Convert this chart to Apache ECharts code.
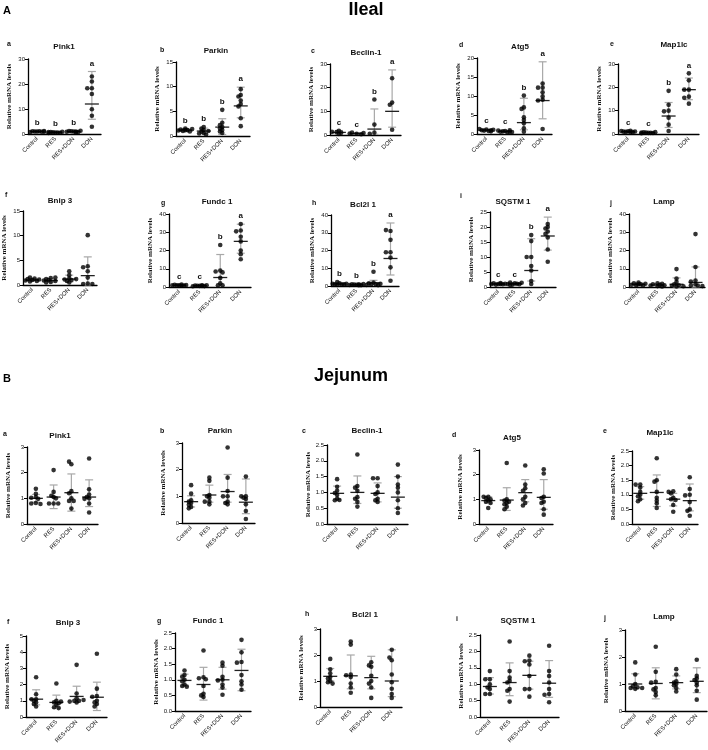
<!DOCTYPE html>
<html><head><meta charset="utf-8">
<script src="https://cdn.jsdelivr.net/npm/echarts@6/dist/echarts.min.js"></script>
<style>html,body{margin:0;padding:0;background:#fff}#c{width:708px;height:750px}</style>
</head><body><div id="c"></div>
<script>
const categories = ['Control', 'RES', 'RES+DON', 'DON'];
const sectionTitles = ['Ileal', 'Jejunum'];
const sectionTags = ['A', 'B'];
const geneNames = ['Pink1', 'Parkin', 'Beclin-1', 'Atg5', 'Map1lc', 'Bnip 3', 'Fundc 1', 'Bcl2l 1', 'SQSTM 1', 'Lamp'];
const panelTags = ['a', 'b', 'c', 'd', 'e', 'f', 'g', 'h', 'i', 'j'];
const yAxisName = 'Relative mRNA levels';

// ---------- Ileal ----------
const ilealPink1Pts = [[1.0,1.1,0.9,1.2,0.8,1.0,1.1,0.9],[0.6,0.8,0.5,0.9,0.7,0.4,0.6,0.8],[1.0,1.2,0.8,1.3,0.9,1.1,0.7,1.0],[23,21,18.3,18.3,16,9.9,7.3,2.9]];
const ilealPink1Mean = [1.0,0.7,1.0,12]; const ilealPink1Lo = [0.8,0.5,0.8,5.9]; const ilealPink1Hi = [1.2,0.9,1.2,25];
const ilealPink1Letters = ['b','b','b','a'];

const ilealParkinPts = [[1.5,1.3,1.2,1.0,1.4,1.1,0.9,1.2],[1.8,1.5,1.2,0.9,0.6,0.5,1.0,0.3],[5.3,2.7,2.2,1.8,1.5,1.2,0.9,0.6],[9.5,8.3,8.0,7.2,6.5,6.0,3.6,2.0]];
const ilealParkinMean = [1.2,1.0,1.8,6.1]; const ilealParkinLo = [0.9,0.5,0.3,3.7]; const ilealParkinHi = [1.5,1.6,3.5,9.9];
const ilealParkinLetters = ['b','b','b','a'];

const ilealBeclinPts = [[1.8,1.2,0.4,1.0,1.3],[0.5,1.0,0.3,0.6,0.8],[15,4.4,1.0,0.5],[24,13.7,12.8,2.2]];
const ilealBeclinMean = [1.1,0.6,2.5,10]; const ilealBeclinLo = [0.3,0.3,0.3,3.3]; const ilealBeclinHi = [1.9,1.0,11,27.5];
const ilealBeclinLetters = ['c','c','b','a'];

const ilealAtg5Pts = [[1.2,1.0,0.8,1.1,0.9,1.3,0.7,1.0],[0.8,0.6,1.0,0.5,0.7,0.9,0.4,0.6],[10.1,7.0,6.6,4.4,3.7,2.8,1.5,0.6],[13.3,12.2,12.2,11.0,9.9,9.0,8.8,1.3]];
const ilealAtg5Mean = [1.0,0.7,3.0,8.8]; const ilealAtg5Lo = [0.8,0.5,1.1,4.0]; const ilealAtg5Hi = [1.2,0.9,9.4,19];
const ilealAtg5Letters = ['c','c','b','a'];

const ilealMap1lcPts = [[1.2,1.0,0.8,1.1,0.9,1.3,1.4,0.7],[0.5,0.7,0.4,0.8,0.6,0.3,0.5,0.6],[18.5,12.5,10.0,9.7,7.0,4.0,1.3],[26,23,19,19,16,15.5,13]];
const ilealMap1lcMean = [1.0,0.55,7.7,19]; const ilealMap1lcLo = [0.7,0.3,2.8,14.7]; const ilealMap1lcHi = [1.3,0.8,13.5,24];
const ilealMap1lcLetters = ['c','c','b','a'];

const ilealBnip3Pts = [[1.0,1.2,0.8,1.3,1.5,0.9,1.1,0.7],[1.4,1.2,0.6,0.8,1.0,0.5,0.9,1.5],[2.8,2.0,1.3,1.1,1.0,0.8,0.5,1.2],[10.1,3.8,3.6,2.8,1.5,0.3,0.2,0.2]];
const ilealBnip3Mean = [1.0,0.9,1.2,1.9]; const ilealBnip3Lo = [0.8,0.6,0.6,0]; const ilealBnip3Hi = [1.3,1.3,2.0,5.7];
const ilealBnip3Letters = ['','','',''];

const ilealFundc1Pts = [[1.0,1.2,0.8,1.1,0.9,1.3,1.0,0.7],[0.6,0.8,0.5,0.9,0.7,0.4,1.0,0.6],[23,9.0,8.5,8.0,5.0,2.0,1.0,1.0],[34.5,31,30.5,27.5,25,20,18,15.2]];
const ilealFundc1Mean = [1.0,0.7,5.2,25]; const ilealFundc1Lo = [0.7,0.4,0.3,18.5]; const ilealFundc1Hi = [1.3,1.0,17.8,34.4];
const ilealFundc1Letters = ['c','c','b','a'];

const ilealBcl2l1Pts = [[1.5,1.0,0.8,2.2,1.2,0.6,1.3,0.9],[0.7,0.9,0.5,1.1,0.6,0.8,0.4,1.0],[8.0,2.0,1.5,1.0,0.8,0.6,1.2,0.5],[31,31.5,26,19,19,16,10.5,3]];
const ilealBcl2l1Mean = [1.2,0.7,1.8,15.5]; const ilealBcl2l1Lo = [0.6,0.4,0.5,6.2]; const ilealBcl2l1Hi = [1.8,1.0,3.2,35.5];
const ilealBcl2l1Letters = ['b','b','b','a'];

const ilealSqstm1Pts = [[1.0,1.2,0.9,1.1,1.0,0.8,1.3,1.0],[1.2,1.5,0.9,1.0,0.8,1.4,1.1,0.7],[17.3,15.3,10.0,10.0,7.0,5.5,2.0,1.0],[21.0,20.0,19.5,18.5,17.7,16.5,12.5,8.4]];
const ilealSqstm1Mean = [1.0,1.1,5.5,17]; const ilealSqstm1Lo = [0.8,0.8,2.0,12.3]; const ilealSqstm1Hi = [1.2,1.4,16.1,23.3];
const ilealSqstm1Letters = ['c','c','b','a'];

const ilealLampPts = [[2.5,2.0,1.5,1.0,0.8,1.2,1.8,1.5],[2.0,1.5,1.8,0.5,0.8,1.0,0.3,1.2],[9.8,4.6,2.8,1.5,1.0,0.7,0.4,0.3],[29,11,3.5,3.0,1.5,1.0,0.8,0.5]];
const ilealLampMean = [1.5,1.1,1.5,2.5]; const ilealLampLo = [0.8,0.4,0,0]; const ilealLampHi = [2.2,1.8,5.0,11];
const ilealLampLetters = ['','','',''];

// ---------- Jejunum ----------
const jejPink1Pts = [[1.37,1.18,1.05,1.02,0.98,0.82,0.80,0.78],[2.1,1.25,1.05,1.1,1.0,0.8,0.8,0.8],[2.33,2.43,1.28,1.2,1.0,0.9,0.9,0.6],[2.55,1.35,1.15,1.05,1.0,0.98,0.8,0.45]];
const jejPink1Mean = [1.0,1.05,1.22,1.05]; const jejPink1Lo = [0.85,0.6,0.5,0.68]; const jejPink1Hi = [1.15,1.52,1.95,1.72];

const jejParkinPts = [[1.42,1.1,0.85,0.8,0.75,0.68,0.6,0.55],[1.7,1.58,1.05,1.0,0.95,0.8,0.8,0.7],[2.83,1.7,1.2,1.0,1.0,0.8,0.75,0.7],[1.74,1.0,1.0,0.95,0.9,0.7,0.45,0.15]];
const jejParkinMean = [0.8,1.05,1.18,0.78]; const jejParkinLo = [0.6,0.78,0.78,0.35]; const jejParkinHi = [1.02,1.42,1.82,1.65];

const jejBeclinPts = [[1.42,1.18,1.05,0.98,0.92,0.8,0.75,0.76],[2.2,1.2,1.15,1.05,0.85,0.8,0.7,0.55],[1.45,1.45,1.2,1.0,0.95,0.8,0.75,0.7],[1.88,1.5,1.25,1.15,1.0,0.75,0.5,0.35]];
const jejBeclinMean = [0.97,1.0,0.97,0.85]; const jejBeclinLo = [0.78,0.65,0.7,0.5]; const jejBeclinHi = [1.2,1.52,1.3,1.5];

const jejAtg5Pts = [[1.1,1.1,1.05,1.0,0.95,0.9,0.85,0.65],[2.47,1.0,0.95,0.9,0.85,0.8,0.7,0.6],[2.37,1.6,1.45,1.35,1.1,1.0,0.85,0.75],[2.22,2.05,1.1,1.05,0.9,0.85,0.6,0.38]];
const jejAtg5Mean = [0.95,0.97,1.27,1.08]; const jejAtg5Lo = [0.85,0.55,0.9,0.6]; const jejAtg5Hi = [1.1,1.47,1.8,1.8];

const jejMap1lcPts = [[1.35,1.35,1.25,1.1,1.0,0.95,0.85,0.78],[2.25,1.5,1.45,1.1,0.9,0.8,0.7,0.55],[1.12,1.1,1.05,0.9,0.85,0.82,0.65,0.42],[1.6,1.2,1.0,0.98,0.75,0.5,0.45,0.28]];
const jejMap1lcMean = [1.05,1.08,0.85,0.8]; const jejMap1lcLo = [0.85,0.6,0.62,0.45]; const jejMap1lcHi = [1.28,1.68,1.05,1.37];

const jejBnip3Pts = [[2.45,1.4,1.1,1.1,1.0,0.9,0.8,0.65],[2.07,1.0,0.9,0.95,0.85,0.75,0.6,0.55],[3.22,1.45,1.15,1.0,1.0,0.95,0.9,1.05],[3.9,1.75,1.3,1.25,1.0,0.9,0.8,0.65]];
const jejBnip3Mean = [1.1,0.9,1.27,1.22]; const jejBnip3Lo = [0.75,0.55,0.9,0.4]; const jejBnip3Hi = [1.68,1.35,1.9,2.15];

const jejFundc1Pts = [[1.3,1.15,1.1,1.0,0.95,0.85,0.8,0.78],[1.94,1.08,1.05,1.02,0.8,0.55,0.45,0.5],[1.55,1.45,1.1,1.0,0.98,0.85,0.75,0.52],[2.28,1.88,1.57,1.55,1.15,0.95,0.85,0.68]];
const jejFundc1Mean = [0.98,0.85,1.0,1.3]; const jejFundc1Lo = [0.8,0.35,0.7,0.65]; const jejFundc1Hi = [1.18,1.4,1.4,1.98];

const jejBcl2l1Pts = [[1.85,1.45,1.3,1.15,1.1,1.0,0.95,0.9],[2.52,2.4,1.25,1.22,1.15,0.9,0.75,0.55],[1.72,1.55,1.6,1.2,1.0,0.9,0.75,0.35],[2.2,1.8,1.9,1.25,0.95,0.7,0.5,0.35]];
const jejBcl2l1Mean = [1.18,1.2,1.13,1.0]; const jejBcl2l1Lo = [1.0,0.7,0.7,0.4]; const jejBcl2l1Hi = [1.48,2.0,1.95,2.2];

const jejSqstm1Pts = [[1.4,1.15,1.15,1.0,0.85,0.7,0.7,0.9],[2.3,1.4,1.2,1.1,1.05,0.85,0.8,0.47],[1.87,1.72,1.7,1.6,1.25,0.85,0.85,0.62],[2.17,1.4,1.25,1.05,0.85,0.7,0.68,0.45]];
const jejSqstm1Mean = [0.93,1.05,1.27,1.03]; const jejSqstm1Lo = [0.7,0.65,0.85,0.6]; const jejSqstm1Hi = [1.2,1.65,1.7,1.72];

const jejLampPts = [[1.8,1.35,1.0,0.92,0.88,0.85,0.85,0.82],[2.38,1.45,1.08,1.05,0.85,0.7,0.58,0.8],[1.55,1.35,1.1,1.05,1.0,0.95,0.85,0.72],[1.9,1.3,1.2,1.15,1.05,0.95,0.75,0.42]];
const jejLampMean = [1.0,1.02,1.05,1.1]; const jejLampLo = [0.82,0.45,0.82,0.68]; const jejLampHi = [1.38,1.6,1.3,1.6];
const noLetters = ['','','',''];

// y-axis ticks: [max, interval]
const ilealYTicks = [[30,10],[15,5],[30,10],[20,5],[30,10],[15,5],[40,10],[40,10],[25,5],[40,10]];
const jejYTicks = [[3,1],[3,1],[2.5,0.5],[3,1],[2.5,0.5],[5,1],[2.5,0.5],[3,1],[2.5,0.5],[3,1]];

const panelData = [
  [ilealPink1Pts, ilealPink1Mean, ilealPink1Lo, ilealPink1Hi, ilealPink1Letters],
  [ilealParkinPts, ilealParkinMean, ilealParkinLo, ilealParkinHi, ilealParkinLetters],
  [ilealBeclinPts, ilealBeclinMean, ilealBeclinLo, ilealBeclinHi, ilealBeclinLetters],
  [ilealAtg5Pts, ilealAtg5Mean, ilealAtg5Lo, ilealAtg5Hi, ilealAtg5Letters],
  [ilealMap1lcPts, ilealMap1lcMean, ilealMap1lcLo, ilealMap1lcHi, ilealMap1lcLetters],
  [ilealBnip3Pts, ilealBnip3Mean, ilealBnip3Lo, ilealBnip3Hi, ilealBnip3Letters],
  [ilealFundc1Pts, ilealFundc1Mean, ilealFundc1Lo, ilealFundc1Hi, ilealFundc1Letters],
  [ilealBcl2l1Pts, ilealBcl2l1Mean, ilealBcl2l1Lo, ilealBcl2l1Hi, ilealBcl2l1Letters],
  [ilealSqstm1Pts, ilealSqstm1Mean, ilealSqstm1Lo, ilealSqstm1Hi, ilealSqstm1Letters],
  [ilealLampPts, ilealLampMean, ilealLampLo, ilealLampHi, ilealLampLetters],
  [jejPink1Pts, jejPink1Mean, jejPink1Lo, jejPink1Hi, noLetters],
  [jejParkinPts, jejParkinMean, jejParkinLo, jejParkinHi, noLetters],
  [jejBeclinPts, jejBeclinMean, jejBeclinLo, jejBeclinHi, noLetters],
  [jejAtg5Pts, jejAtg5Mean, jejAtg5Lo, jejAtg5Hi, noLetters],
  [jejMap1lcPts, jejMap1lcMean, jejMap1lcLo, jejMap1lcHi, noLetters],
  [jejBnip3Pts, jejBnip3Mean, jejBnip3Lo, jejBnip3Hi, noLetters],
  [jejFundc1Pts, jejFundc1Mean, jejFundc1Lo, jejFundc1Hi, noLetters],
  [jejBcl2l1Pts, jejBcl2l1Mean, jejBcl2l1Lo, jejBcl2l1Hi, noLetters],
  [jejSqstm1Pts, jejSqstm1Mean, jejSqstm1Lo, jejSqstm1Hi, noLetters],
  [jejLampPts, jejLampMean, jejLampLo, jejLampHi, noLetters]
];
const yTicks = ilealYTicks.concat(jejYTicks);

// ---------- layout (pixels): axisX, axisEndX, topY, zeroY, titleX, titleY, tagX, tagY ----------
const layout = [
  [28,101,59,134, 64,47, 7,44],
  [176,250,62,136, 216,51, 160,50],
  [330,401,64,135, 366,53, 311,51],
  [477,552,58,134, 520,47, 459,45],
  [618,699,64,134, 674,45, 610,44],
  [23,97,211,285, 60,201, 5,195],
  [169,251,214,287, 217,202, 161,203],
  [331,399,215,286, 363,205, 312,203],
  [490,556,212,287, 513,202, 460,196],
  [629,705,214,287, 664,202, 610,203],
  [27,98,447,524, 60,436, 3,434],
  [182,255,443,523, 220,431, 160,431],
  [327,408,445,524, 367,431, 302,431],
  [479,553,450,524, 512,438, 452,435],
  [632,698,451,524, 660,433, 603,431],
  [26,107,636,717, 68,623, 7,622],
  [175,251,633,711, 208,621, 157,621],
  [320,402,629,707, 365,615, 305,614],
  [480,559,635,717, 518,621, 456,619],
  [625,707,630,711, 664,617, 604,618]
];

function swarm(vals, pxPerUnit) {
  const placed = [];
  const step = 2.3, thr = 2.6, maxOff = 8;
  const cands = [0];
  for (let k = 1; k * step <= maxOff; k++) { cands.push(-k * step, k * step); }
  return vals.map(v => {
    const y = v * pxPerUnit;
    let best = 0, bestD = -1;
    for (const c of cands) {
      let md = Infinity;
      for (const p of placed) { const d = Math.hypot(c - p[0], y - p[1]); if (d < md) md = d; }
      if (md >= thr) { best = c; bestD = md; break; }
      if (md > bestD) { bestD = md; best = c; }
    }
    placed.push([best, y]);
    return best;
  });
}

const grids = [], xAxes = [], yAxes = [], series = [], graphics = [];
const F = 'Liberation Sans, Arial, sans-serif';

layout.forEach((L, i) => {
  const [ax, xe, top, zero, tx, ty, gx, gy] = L;
  const [pts, mean, lo, hi, letters] = panelData[i];
  const [yMax, yStep] = yTicks[i];
  const h = zero - top;
  grids.push({ left: ax, top: top, width: xe - ax, height: h, containLabel: false });
  xAxes.push({
    type: 'category', gridIndex: i, data: categories, boundaryGap: true,
    axisLine: { lineStyle: { color: '#000', width: 1.3 } },
    axisTick: { show: false },
    axisLabel: { rotate: 45, fontSize: 6, margin: 4, color: '#111', interval: 0, fontFamily: F }
  });
  yAxes.push({
    type: 'value', gridIndex: i, min: 0, max: yMax, interval: yStep,
    axisLine: { show: true, lineStyle: { color: '#000', width: 1.3 } },
    axisTick: { show: true, length: 3, lineStyle: { color: '#000', width: 1 } },
    axisLabel: { fontSize: 6, margin: 3, color: '#111', fontFamily: F,
      formatter: v => yStep < 1 ? v.toFixed(1) : String(v) },
    splitLine: { show: false },
    name: yAxisName, nameLocation: 'middle', nameGap: 15, nameRotate: 90,
    nameTextStyle: { fontFamily: 'Liberation Serif, Times New Roman, serif', fontSize: 7, fontWeight: 'bold', color: '#111' }
  });
  const pxPerUnit = h / yMax;
  const scatterData = [];
  pts.forEach((grp, g) => {
    const offs = swarm(grp, pxPerUnit);
    grp.forEach((v, k) => scatterData.push({ value: [g, v], symbolOffset: [offs[k], 0] }));
  });
  const barData = categories.map((c, g) => [g, mean[g], lo[g], hi[g], Math.max.apply(null, pts[g])]);
  series.push({
    type: 'custom', xAxisIndex: i, yAxisIndex: i, z: 2, silent: true, clip: false,
    data: barData,
    renderItem: (params, api) => {
      const x = api.value(0);
      const pm = api.coord([x, api.value(1)]);
      const pl = api.coord([x, api.value(2)]);
      const ph = api.coord([x, api.value(3)]);
      const pmax = api.coord([x, api.value(4)]);
      const grey = '#a8a8a8';
      const children = [
        { type: 'line', shape: { x1: pl[0], y1: pl[1], x2: ph[0], y2: ph[1] }, style: { stroke: grey, lineWidth: 1.2 } },
        { type: 'line', shape: { x1: pl[0] - 4, y1: pl[1], x2: pl[0] + 4, y2: pl[1] }, style: { stroke: grey, lineWidth: 1.2 } },
        { type: 'line', shape: { x1: ph[0] - 4, y1: ph[1], x2: ph[0] + 4, y2: ph[1] }, style: { stroke: grey, lineWidth: 1.2 } },
        { type: 'line', shape: { x1: pm[0] - 7, y1: pm[1], x2: pm[0] + 7, y2: pm[1] }, style: { stroke: '#222', lineWidth: 1.3 } }
      ];
      const letter = letters[params.dataIndex];
      if (letter) {
        const topY = Math.min(ph[1], pmax[1]);
        children.push({ type: 'text', x: pm[0], y: topY - 8,
          style: { text: letter, align: 'center', verticalAlign: 'middle', textAlign: 'center', textVerticalAlign: 'middle',
            fontSize: 8, fontWeight: 'bold', fontFamily: F, fill: '#111' } });
      }
      return { type: 'group', children };
    }
  });
  series.push({
    type: 'scatter', xAxisIndex: i, yAxisIndex: i, z: 3, silent: true,
    symbol: 'circle', symbolSize: 4.6, itemStyle: { color: '#000' },
    data: scatterData
  });
  graphics.push({ type: 'text', x: tx, y: ty, style: { text: geneNames[i % 10], align: 'center', verticalAlign: 'middle', textAlign: 'center', textVerticalAlign: 'middle', fontSize: 8, fontWeight: 'bold', fontFamily: F, fill: '#111' } });
  graphics.push({ type: 'text', x: gx, y: gy, style: { text: panelTags[i % 10], align: 'left', verticalAlign: 'middle', textAlign: 'left', textVerticalAlign: 'middle', fontSize: 7, fontWeight: 'bold', fontFamily: F, fill: '#111' } });
});

graphics.push({ type: 'text', x: 366, y: 10, style: { text: sectionTitles[0], align: 'center', verticalAlign: 'middle', textAlign: 'center', textVerticalAlign: 'middle', fontSize: 18, fontWeight: 'bold', fontFamily: F, fill: '#000' } });
graphics.push({ type: 'text', x: 351, y: 376, style: { text: sectionTitles[1], align: 'center', verticalAlign: 'middle', textAlign: 'center', textVerticalAlign: 'middle', fontSize: 18, fontWeight: 'bold', fontFamily: F, fill: '#000' } });
graphics.push({ type: 'text', x: 3, y: 11, style: { text: sectionTags[0], align: 'left', verticalAlign: 'middle', textAlign: 'left', textVerticalAlign: 'middle', fontSize: 11, fontWeight: 'bold', fontFamily: F, fill: '#000' } });
graphics.push({ type: 'text', x: 3, y: 379, style: { text: sectionTags[1], align: 'left', verticalAlign: 'middle', textAlign: 'left', textVerticalAlign: 'middle', fontSize: 11, fontWeight: 'bold', fontFamily: F, fill: '#000' } });

const chart = echarts.init(document.getElementById('c'), null, { renderer: 'canvas' });
chart.setOption({
  animation: false,
  backgroundColor: '#fff',
  grid: grids, xAxis: xAxes, yAxis: yAxes, series: series, graphic: graphics
});
</script></body></html>
